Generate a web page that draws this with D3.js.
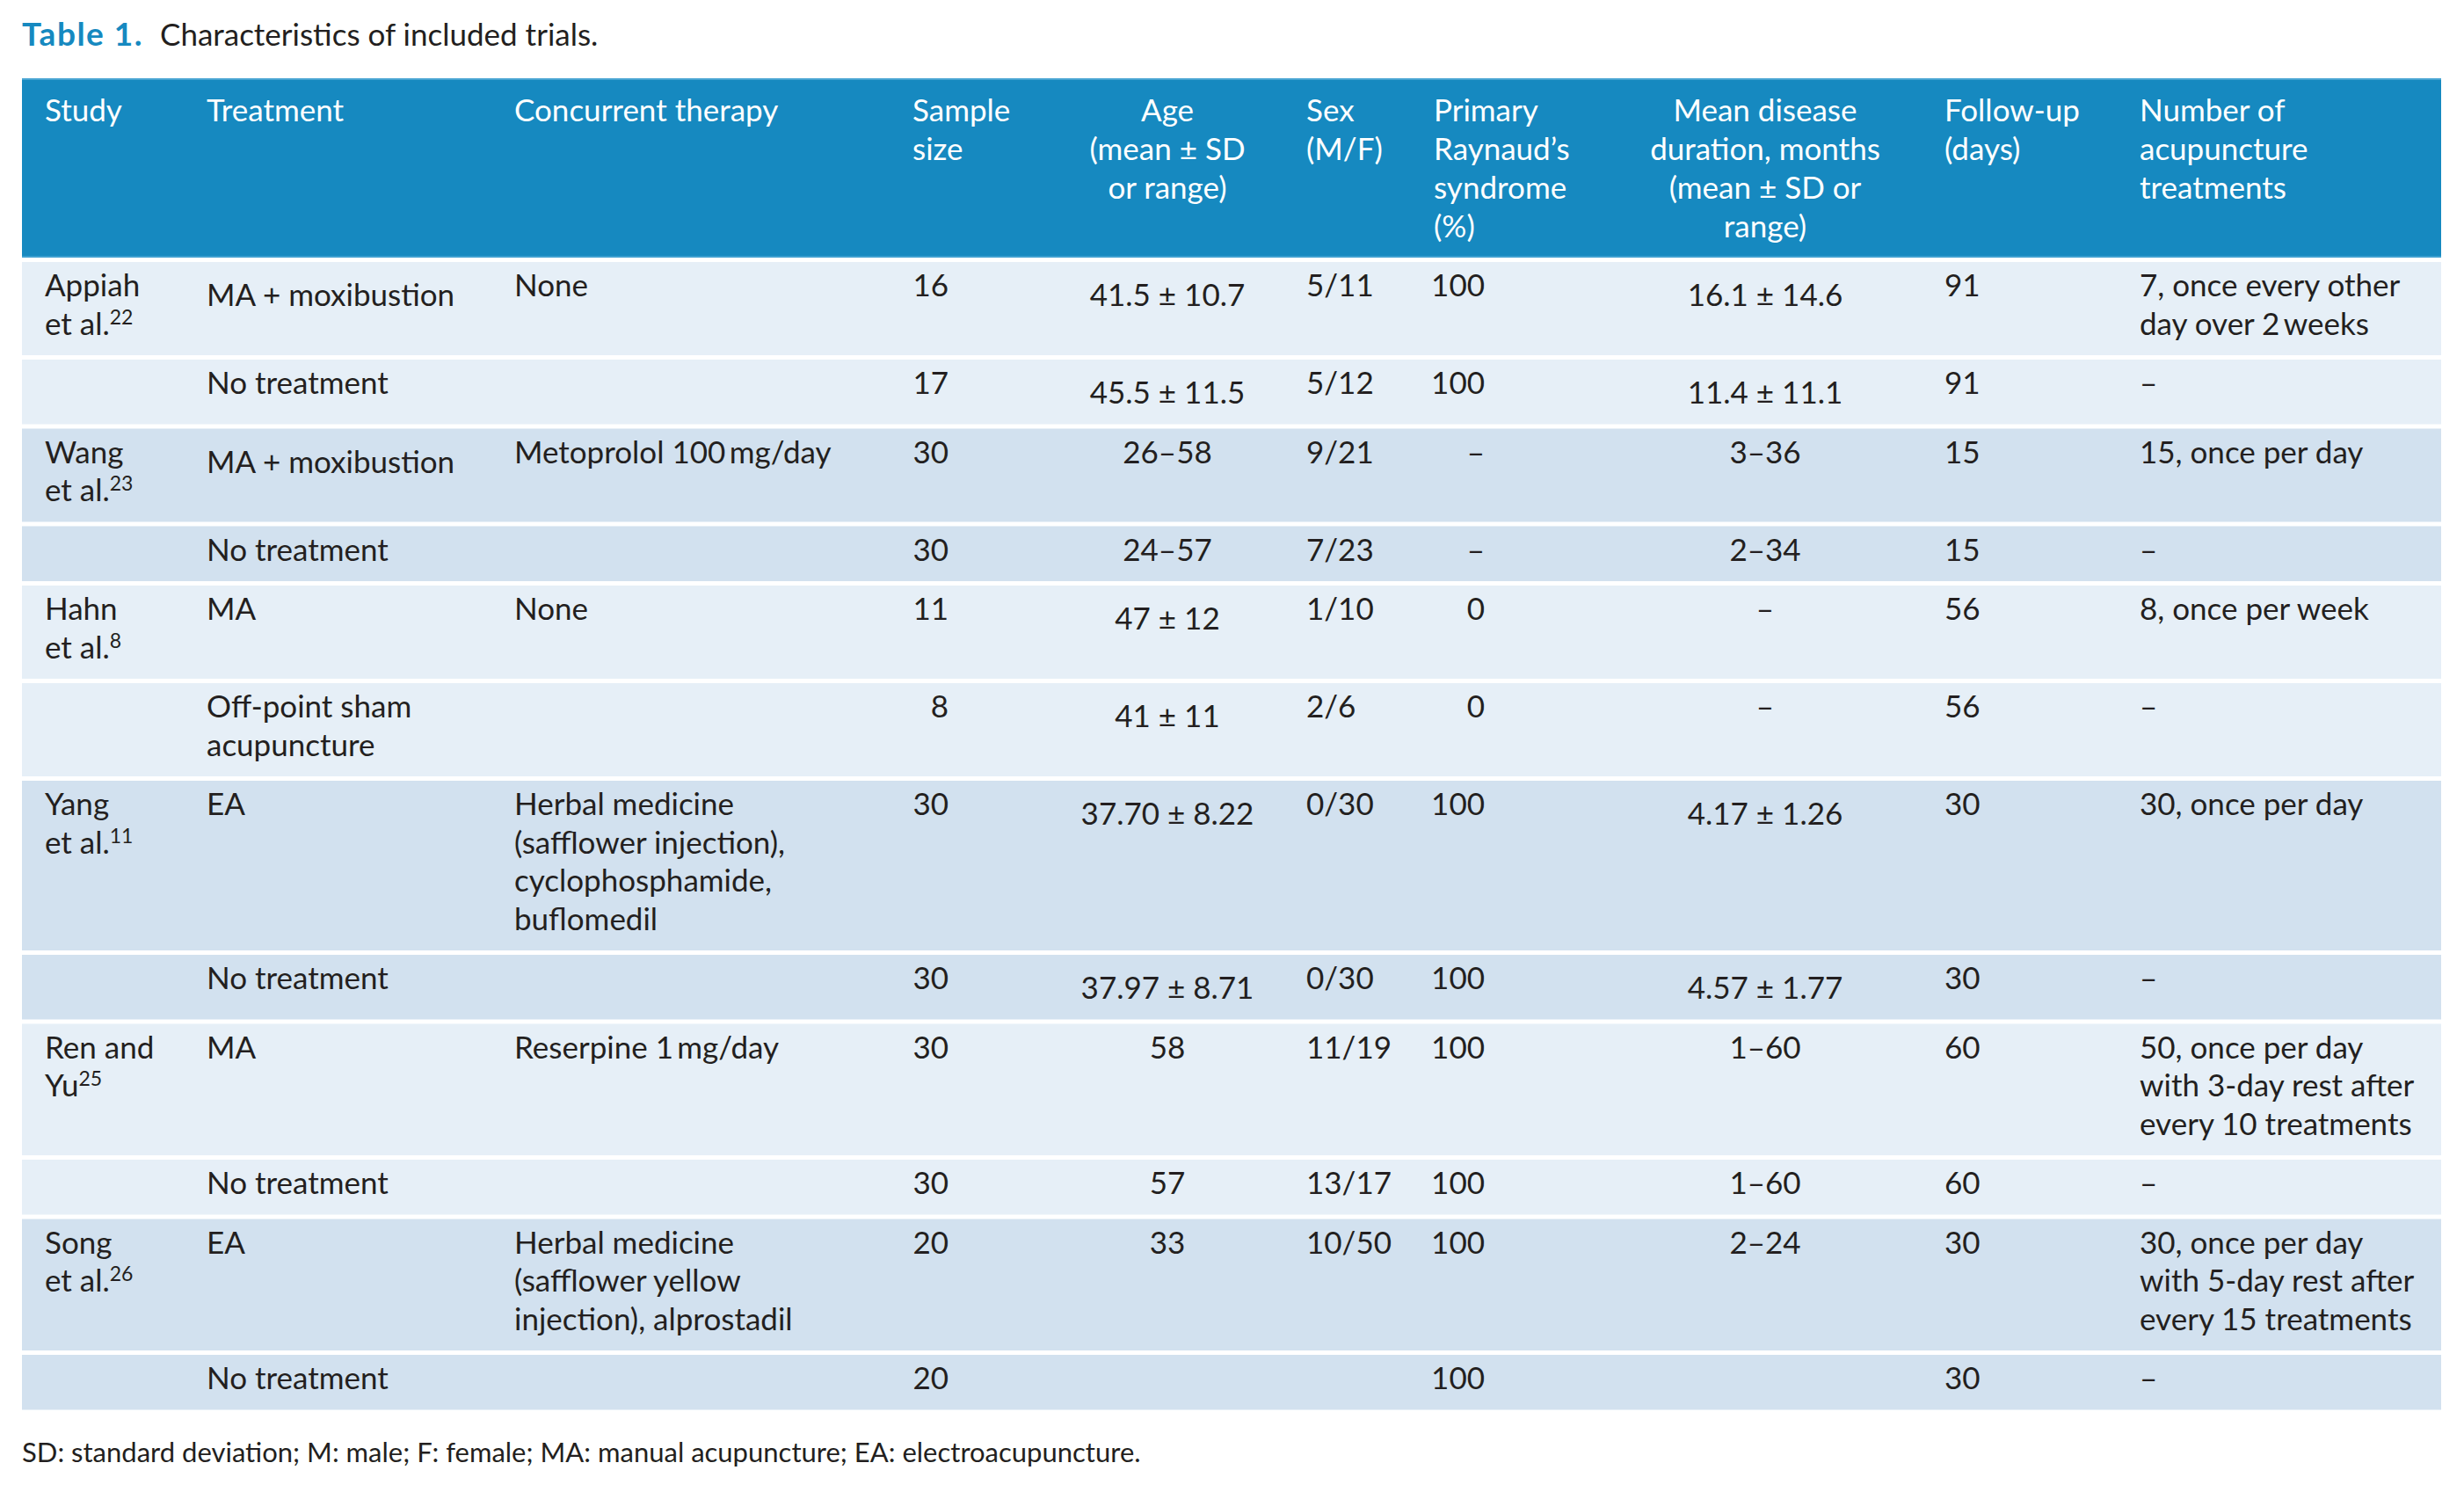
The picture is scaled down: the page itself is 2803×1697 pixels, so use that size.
<!DOCTYPE html>
<html>
<head>
<meta charset="utf-8">
<script src="https://cdn.jsdelivr.net/npm/d3@7/dist/d3.min.js"></script>
<style>
  html, body { margin: 0; padding: 0; background: #ffffff; }
  svg { display: block; }
  text { font-family: Lato, "Open Sans", sans-serif; }
</style>
</head>
<body>
<svg id="chart" width="2803" height="1697"></svg>
<script>
// ---------------- DATA ----------------
const titleLabel = "Table 1.";
const titleText = "Characteristics of included trials.";
const footnote = "SD: standard deviation; M: male; F: female; MA: manual acupuncture; EA: electroacupuncture.";

const columnKeys = ["study", "treatment", "concurrent", "sample", "age", "sex", "primary", "duration", "followUp", "number"];
const columnHeaders = [
  ["Study"],
  ["Treatment"],
  ["Concurrent therapy"],
  ["Sample", "size"],
  ["Age", "(mean ± SD", "or range)"],
  ["Sex", "(M/F)"],
  ["Primary", "Raynaud’s", "syndrome", "(%)"],
  ["Mean disease", "duration, months", "(mean ± SD or", "range)"],
  ["Follow-up", "(days)"],
  ["Number of", "acupuncture", "treatments"]
];

const studyNames = ["Appiah\net al.", "", "Wang\net al.", "", "Hahn\net al.", "", "Yang\net al.", "", "Ren and\nYu", "", "Song\net al.", ""];
const studyRefs = ["22", "", "23", "", "8", "", "11", "", "25", "", "26", ""];
const treatments = ["MA + moxibustion", "No treatment", "MA + moxibustion", "No treatment", "MA", "Off-point sham\nacupuncture", "EA", "No treatment", "MA", "No treatment", "EA", "No treatment"];
const concurrentTherapy = ["None", "", "Metoprolol 100\u2009mg/day", "", "None", "", "Herbal medicine\n(safflower injection),\ncyclophosphamide,\nbuflomedil", "", "Reserpine 1\u2009mg/day", "", "Herbal medicine\n(safflower yellow\ninjection), alprostadil", ""];
const sampleSizes = [16, 17, 30, 30, 11, 8, 30, 30, 30, 30, 20, 20];
const ages = ["41.5 ± 10.7", "45.5 ± 11.5", "26–58", "24–57", "47 ± 12", "41 ± 11", "37.70 ± 8.22", "37.97 ± 8.71", "58", "57", "33", ""];
const sexRatios = ["5/11", "5/12", "9/21", "7/23", "1/10", "2/6", "0/30", "0/30", "11/19", "13/17", "10/50", ""];
const primaryRaynaud = ["100", "100", "–", "–", "0", "0", "100", "100", "100", "100", "100", "100"];
const diseaseDuration = ["16.1 ± 14.6", "11.4 ± 11.1", "3–36", "2–34", "–", "–", "4.17 ± 1.26", "4.57 ± 1.77", "1–60", "1–60", "2–24", ""];
const followUpDays = [91, 91, 15, 15, 56, 56, 30, 30, 60, 60, 30, 30];
const acupunctureSessions = ["7, once every other\nday over 2\u2009weeks", "–", "15, once per day", "–", "8, once per week", "–", "30, once per day", "–", "50, once per day\nwith 3-day rest after\nevery 10 treatments", "–", "30, once per day\nwith 5-day rest after\nevery 15 treatments", "–"];
const studyGroup = [0, 0, 1, 1, 2, 2, 3, 3, 4, 4, 5, 5];

// ---------------- LAYOUT ----------------
const W = 2803, H = 1697;
const tableLeft = 25, tableRight = 2777;
const headerTop = 89, headerBottom = 293;
const rowGap = 5;
const lineH = 43.5;
const firstBase = 39;
const rowBase = 62.5;
const mathShift = 11;
const fontSize = 35;

const textColor = "#231f20";
const blue = "#1689c0";
const rowColors = ["#e6eff7", "#d2e1ef"];

const colX = d3.scaleOrdinal().domain(columnKeys)
  .range([51, 235, 585, 1038, 1328, 1486, 1631, 2008, 2212, 2434]);
const headAnchor = d3.scaleOrdinal().domain(columnKeys)
  .range(["start", "start", "start", "start", "middle", "start", "start", "middle", "start", "start"]);
const bodyX = d3.scaleOrdinal().domain(columnKeys)
  .range([51, 235, 585, 1079, 1328, 1486, 1689, 2008, 2212, 2434]);
const bodyAnchor = d3.scaleOrdinal().domain(columnKeys)
  .range(["start", "start", "start", "end", "middle", "start", "end", "middle", "start", "start"]);

const rows = d3.range(sampleSizes.length).map(i => ({
  study: studyNames[i], ref: studyRefs[i],
  treatment: treatments[i], concurrent: concurrentTherapy[i],
  sample: String(sampleSizes[i]), age: ages[i], sex: sexRatios[i],
  primary: primaryRaynaud[i], duration: diseaseDuration[i],
  followUp: String(followUpDays[i]), number: acupunctureSessions[i],
  group: studyGroup[i]
}));

function lines(s) { return s === "" ? [] : s.split("\n"); }
function hasMath(s) { return /[±+]/.test(s); }

// compute row heights
let y = headerBottom + rowGap;
rows.forEach(r => {
  let h = 0;
  columnKeys.forEach(k => {
    const n = Math.max(1, lines(r[k]).length);
    const ch = rowBase + (n - 1) * lineH + (hasMath(r[k]) ? mathShift : 0);
    h = Math.max(h, ch);
  });
  r.y = y; r.h = h;
  y += h + rowGap;
});

const svg = d3.select("#chart");
svg.append("rect").attr("width", W).attr("height", H).attr("fill", "#fff");

// title
svg.append("text").attr("x", 25).attr("y", 52)
  .attr("font-size", 37).attr("letter-spacing", 1.5)
  .attr("fill", blue).attr("font-weight", "bold").text(titleLabel);
svg.append("text").attr("x", 182).attr("y", 52).attr("font-size", 35)
  .attr("fill", textColor).text(titleText);

// header
svg.append("rect").attr("x", tableLeft).attr("y", headerTop)
  .attr("width", tableRight - tableLeft).attr("height", headerBottom - headerTop)
  .attr("fill", blue);
svg.append("line").attr("x1", tableLeft).attr("x2", tableRight)
  .attr("y1", headerTop + 1).attr("y2", headerTop + 1)
  .attr("stroke", "#49a5d3").attr("stroke-width", 2);
svg.append("line").attr("x1", tableLeft).attr("x2", tableRight)
  .attr("y1", headerBottom - 1).attr("y2", headerBottom - 1)
  .attr("stroke", "#3c9fd0").attr("stroke-width", 2);

const headG = svg.append("g");
columnKeys.forEach((k, ci) => {
  const t = headG.append("text")
    .attr("x", colX(k)).attr("y", headerTop + 49)
    .attr("text-anchor", headAnchor(k))
    .attr("font-size", fontSize).attr("fill", "#ffffff");
  t.selectAll("tspan").data(columnHeaders[ci]).join("tspan")
    .attr("x", colX(k)).attr("dy", (d, i) => i === 0 ? 0 : 44)
    .text(d => d);
});

// body rows
const rowG = svg.append("g").selectAll("g.row").data(rows).join("g")
  .attr("class", "row")
  .attr("transform", d => `translate(0,${d.y})`);

rowG.append("rect")
  .attr("x", tableLeft).attr("width", tableRight - tableLeft)
  .attr("height", d => d.h)
  .attr("fill", d => rowColors[d.group % 2]);

columnKeys.forEach(k => {
  const t = rowG.append("text")
    .attr("x", bodyX(k))
    .attr("y", d => firstBase + (hasMath(d[k]) ? mathShift : 0))
    .attr("text-anchor", bodyAnchor(k))
    .attr("font-size", fontSize).attr("fill", textColor);
  t.selectAll("tspan.l").data(d => lines(d[k]).map((s, i) => ({ s, i })))
    .join("tspan").attr("class", "l")
    .attr("x", bodyX(k)).attr("dy", d => d.i === 0 ? 0 : lineH)
    .text(d => d.s);
  if (k === "study") {
    // superscript reference numbers on the last line of the study name
    t.each(function (d) {
      if (!d.ref) return;
      d3.select(this).append("tspan")
        .attr("font-size", 23).attr("dy", -12).text(d.ref);
    });
  }
});

// footnote
svg.append("text").attr("x", 25).attr("y", 1663)
  .attr("font-size", 31).attr("fill", textColor).text(footnote);
</script>
</body>
</html>
